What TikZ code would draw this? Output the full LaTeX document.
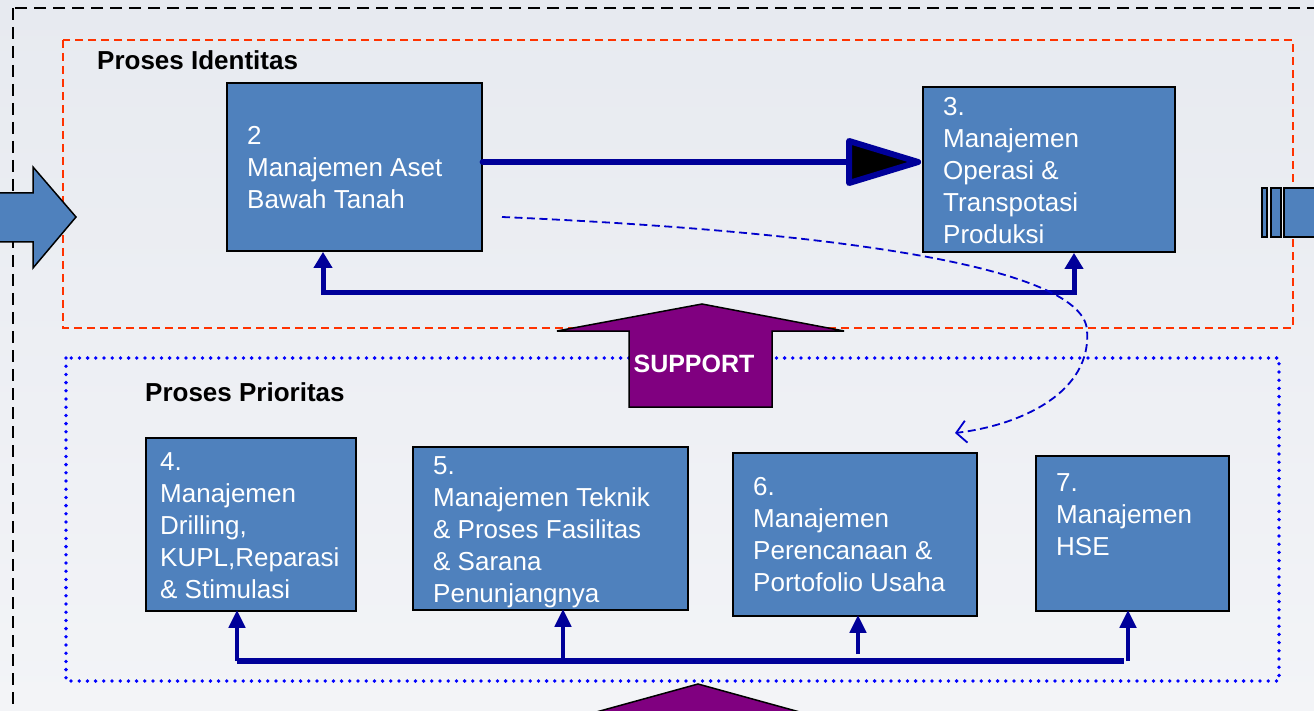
\documentclass[tikz,border=0pt]{standalone}
\usepackage{fontspec}
\setmainfont{Liberation Sans}
\usetikzlibrary{arrows.meta, positioning, calc}
\definecolor{BoxColor}{RGB}{79,129,189}
\definecolor{LineColor}{RGB}{0,0,153}
\definecolor{FrameRed}{RGB}{255,51,0}
\definecolor{DotBlue}{RGB}{0,0,255}
\definecolor{CurveBlue}{RGB}{0,0,204}
\definecolor{SupportColor}{RGB}{128,0,128}
\definecolor{BgTop}{RGB}{231,234,240}
\definecolor{BgBottom}{RGB}{243,244,247}
\tikzstyle{bus line} = [LineColor, line width=6pt]
\tikzstyle{up arrow} = [LineColor, line width=4.5pt, -{Triangle[length=18pt,width=16pt]}, shorten >=-2pt]
\tikzset{
  proc box/.style={rectangle, draw=black, line width=1.8pt, fill=BoxColor, inner sep=0pt},
  box text/.style={text=white, align=left, inner sep=0pt, anchor=north west, font=\fontsize{26}{32}\selectfont},
  group title/.style={anchor=base west, inner sep=0pt, font=\fontsize{26}{32}\selectfont\bfseries},
  flow line/.style={LineColor, line width=6.5pt, line cap=round},
  flow head/.style={draw=LineColor, fill=black, line width=6pt, line join=round},
  feedback/.style={LineColor, line width=5pt, {Triangle[length=16pt,width=18pt]}-{Triangle[length=16pt,width=18pt]}},
  link curve/.style={CurveBlue, line width=1.8pt, dash pattern=on 8pt off 4.5pt, -{Straight Barb[length=10pt,width=22pt]}},
  outer frame/.style={black, line width=2pt, dash pattern=on 12pt off 7pt},
  identity frame/.style={FrameRed, line width=2pt, dash pattern=on 8pt off 5pt},
  priority frame/.style={DotBlue, line width=3.8pt, dash pattern=on 0pt off 8.2pt, line cap=round},
  block arrow/.style={fill=BoxColor, draw=black, line width=1.5pt},
  support arrow/.style={fill=SupportColor, draw=black, line width=1.5pt},
  support text/.style={text=white, inner sep=0pt, font=\fontsize{25}{30}\selectfont\bfseries}
}
\begin{document}
\begin{tikzpicture}[x=1pt, y=-1pt]
                \useasboundingbox (0,0) rectangle (1314,711);
                \clip (0,0) rectangle (1314,711);
                \shade[top color=BgTop, bottom color=BgBottom] (0,0) rectangle (1314,711);

                % Frames
                \draw[outer frame] (13,8) rectangle (1340,740);
                \draw[identity frame] (63,40) rectangle (1293,328);
                \draw[priority frame] (66,358) rectangle (1279,681);

                % Input and output arrows
                \draw[block arrow] (-10,193) -- (33,193) -- (33,167) -- (76,217) -- (33,268) -- (33,242) -- (-10,242) -- cycle;
                \draw[block arrow] (1262,188) rectangle (1267,237);
                \draw[block arrow] (1271,188) rectangle (1281,237);
                \draw[block arrow] (1284,188) rectangle (1330,237);

                % Proses Identitas
                \node[group title] (identitas) at (97,70) {Proses Identitas};
                \node[proc box, minimum width=255pt, minimum height=168pt] (b2) at (354.5,167) {};
                \node[box text] (t2) at (247,126.4) {2\\Manajemen Aset\\Bawah Tanah};
                \node[proc box, minimum width=252pt, minimum height=165pt] (b3) at (1049,169.5) {};
                \node[box text] (t3) at (943,97.4) {3.\\Manajemen\\Operasi \&\\Transpotasi\\Produksi};

                % Main flow 2 -> 3
                \coordinate (headtip) at ($(b3.west)+(-4,-7.5)$);
                \draw[flow line] (b2.east |- headtip) -- ($(headtip)+(-69,0)$);
                \draw[flow head] ($(headtip)+(-69,-21)$) -- (headtip) -- ($(headtip)+(-69,21)$) -- cycle;

                % Feedback loop
                \coordinate (fbL) at (323,293);
                \coordinate (fbR) at (1074,293);
                \draw[feedback] (b2.south -| fbL) -- (fbL) -- (fbR) -- (b3.south -| fbR);

                % Proses Prioritas
                \node[group title] (prioritas) at (145,401) {Proses Prioritas};
                \node[proc box, minimum width=210pt, minimum height=173pt] (b4) at (251,524.5) {};
                \node[box text] (t4) at (160,452.4) {4.\\Manajemen\\Drilling,\\KUPL,Reparasi\\\& Stimulasi};
                \node[proc box, minimum width=275pt, minimum height=163pt] (b5) at (550.5,528.5) {};
                \node[box text] (t5) at (433,456.4) {5.\\Manajemen Teknik\\\& Proses Fasilitas\\\& Sarana\\Penunjangnya};
                \node[proc box, minimum width=244pt, minimum height=163pt] (b6) at (855,534.5) {};
                \node[box text] (t6) at (753,477.4) {6.\\Manajemen\\Perencanaan \&\\Portofolio Usaha};
                \node[proc box, minimum width=193pt, minimum height=155pt] (b7) at (1132.5,533.5) {};
                \node[box text] (t7) at (1056,473.4) {7.\\Manajemen\\HSE};

                % Dashed link from 2 to 6
                \coordinate (linkStart) at (502,217);
                \coordinate (linkBend) at (1087,330);
                \coordinate (linkEnd) at (955,433);
                \draw[link curve] (linkStart) .. controls (800,230) and (1082,262) .. (linkBend)
                    .. controls (1092,392) and (1022,425) .. (linkEnd);

                % Bus to lower boxes
                \coordinate (busL) at (237,661);
                \coordinate (busR) at (1124,661);
                \coordinate (foot5) at (563,661);
                \coordinate (foot6) at (858,654);
                \coordinate (foot7) at (1128,661);
                \draw[bus line] (busL) -- (busR);
                \draw[up arrow] (busL) -- (b4.south -| busL);
                \draw[up arrow] (foot5) -- (b5.south -| foot5);
                \draw[up arrow] (foot6) -- (b6.south -| foot6);
                \draw[up arrow] (foot7) -- (b7.south -| foot7);

                % Support arrows
                \draw[support arrow] (629,407) -- (629,331) -- (557,331) -- (702,304) -- (844,331) -- (772,331) -- (772,407) -- cycle;
                \node[support text] (support) at (694,364) {SUPPORT};
                \draw[support arrow] (698,684) -- (560,722) -- (836,722) -- cycle;
            \end{tikzpicture}
\end{document}
